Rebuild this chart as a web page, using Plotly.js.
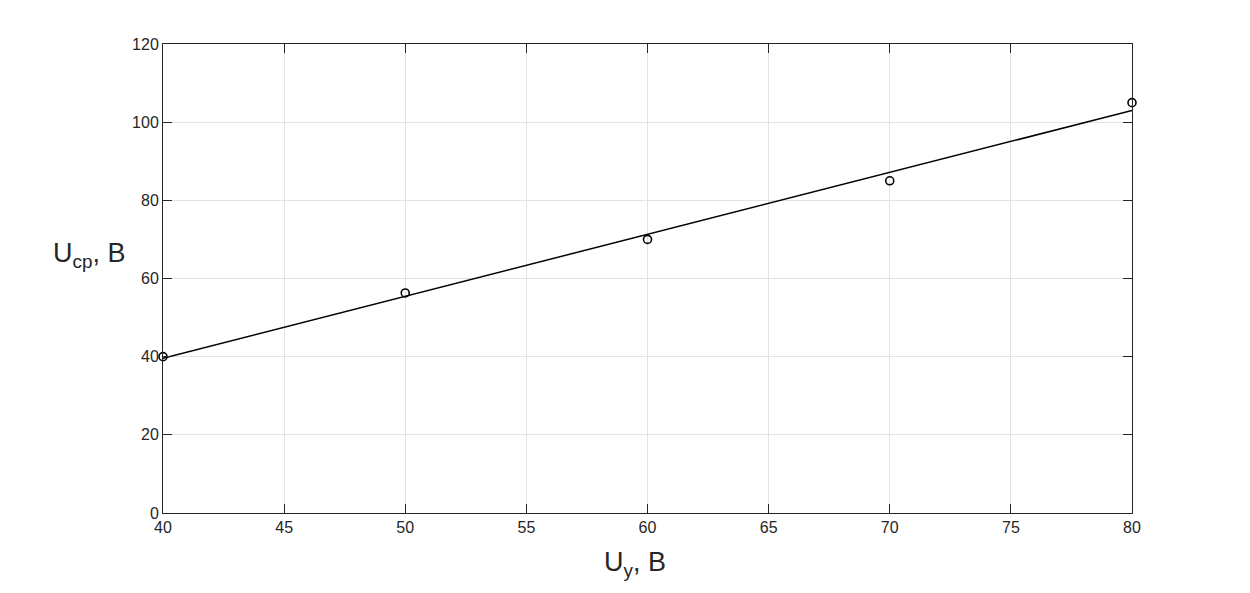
<!DOCTYPE html>
<html>
<head>
<meta charset="utf-8">
<script src="https://cdn.plot.ly/plotly-3.0.1.min.js"></script>
<style>html,body{margin:0;padding:0;background:#fff;}#chart{width:1250px;height:593px;}</style>
</head>
<body>
<div id="chart"></div>
<script>
// Measured points
const uy = [40, 50, 60, 70, 80];
const ucp = [40, 56.3, 70, 85, 105];
// Fitted line endpoints
const fitX = [40, 80];
const fitY = [39.6, 103.0];
const xTicks = [40, 45, 50, 55, 60, 65, 70, 75, 80];
const yTicks = [0, 20, 40, 60, 80, 100, 120];

const traces = [
  {x: fitX, y: fitY, mode: 'lines', line: {color: '#000', width: 1.5}, hoverinfo: 'skip', cliponaxis: false},
  {x: uy, y: ucp, mode: 'markers', cliponaxis: false, marker: {symbol: 'circle-open', size: 8, color: '#000', line: {width: 1.6, color: '#000'}}}
];

const axisCommon = {
  showline: true, linecolor: '#262626', linewidth: 1, mirror: 'ticks',
  ticks: 'inside', ticklen: 9, tickcolor: '#262626', tickwidth: 1,
  showgrid: true, gridcolor: '#e3e3e3', gridwidth: 1, zeroline: false,
  tickfont: {family: 'Liberation Sans, Arial, sans-serif', size: 16, color: '#262626'}
};

const titleFont = {family: 'Liberation Sans, Arial, sans-serif', size: 27, color: '#262626'};

const layout = {
  width: 1250, height: 593,
  margin: {l: 163, r: 118, t: 44, b: 80},
  paper_bgcolor: '#fff', plot_bgcolor: '#fff',
  showlegend: false,
  xaxis: Object.assign({}, axisCommon, {
    range: [40, 80], tickvals: xTicks, ticktext: xTicks.map(String)
  }),
  yaxis: Object.assign({}, axisCommon, {
    range: [0, 120], tickvals: yTicks, ticktext: yTicks.map(String)
  }),
  annotations: [{
    xref: 'paper', yref: 'paper', x: -0.076, y: 0.55, xanchor: 'center', yanchor: 'middle',
    text: 'U<sub>cp</sub>, B', showarrow: false, font: titleFont
  }, {
    xref: 'paper', yref: 'paper', x: 0.487, y: -0.108, xanchor: 'center', yanchor: 'middle',
    text: 'U<sub>y</sub>, B', showarrow: false, font: titleFont
  }]
};

Plotly.newPlot('chart', traces, layout, {displayModeBar: false, staticPlot: true});
</script>
</body>
</html>
